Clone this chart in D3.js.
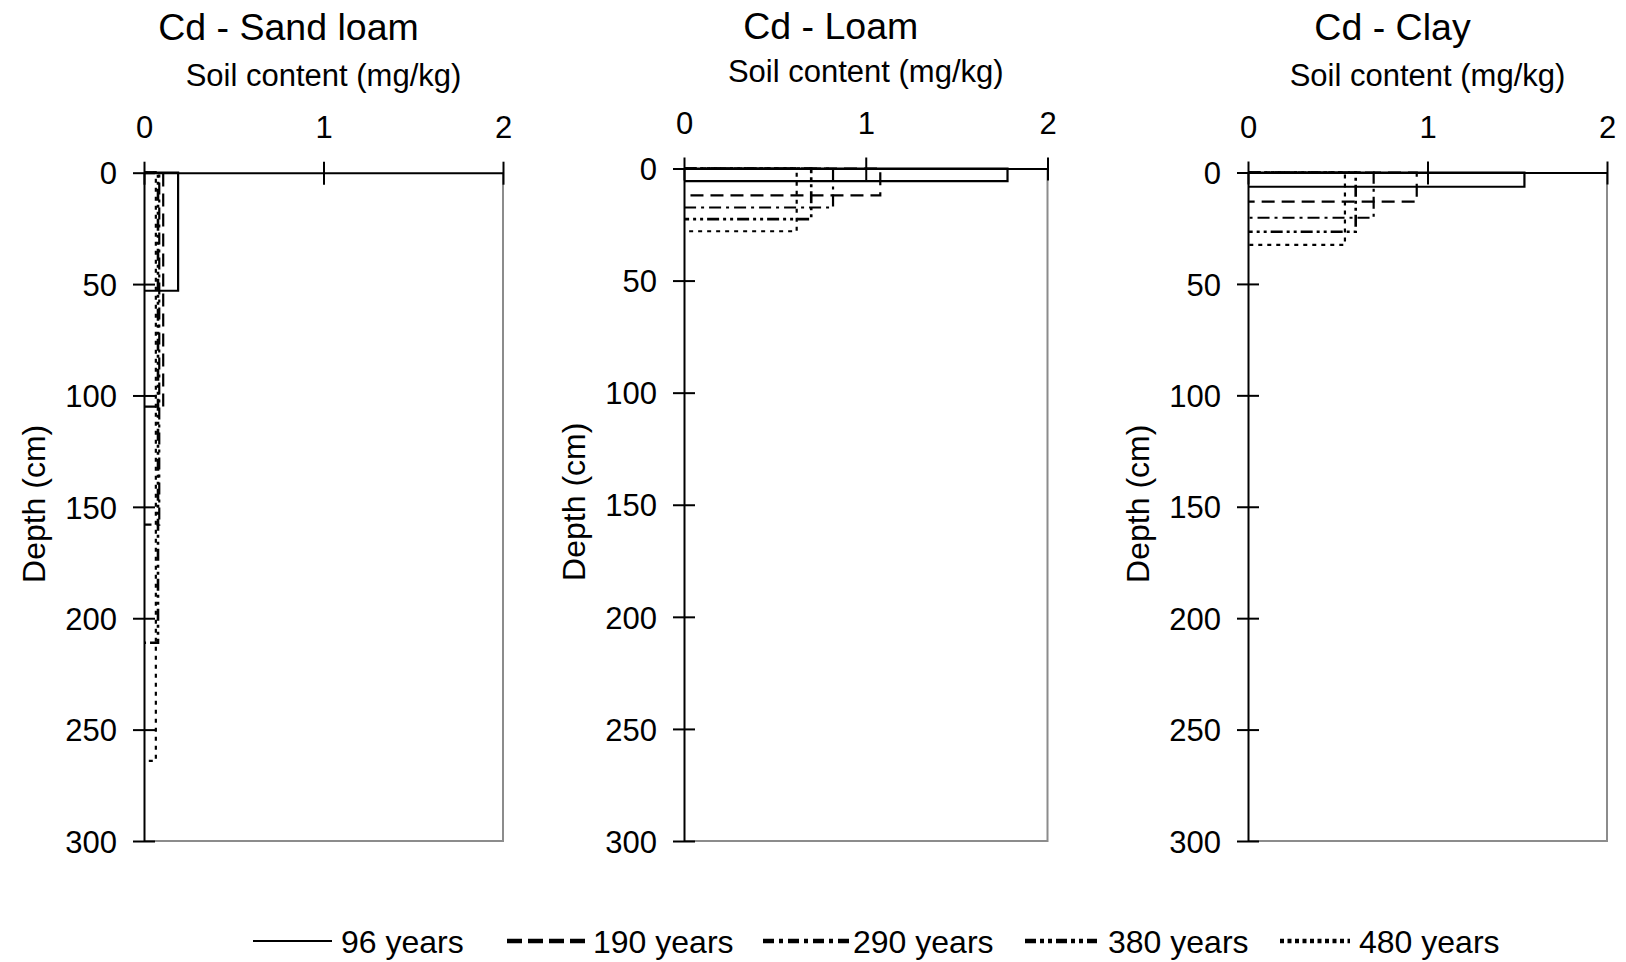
<!DOCTYPE html>
<html>
<head>
<meta charset="utf-8">
<script src="https://cdn.jsdelivr.net/npm/d3@7"></script>
<style>
  body { margin: 0; background: #fff; }
  text { font-family: "Liberation Sans", Arial, sans-serif; fill: #000; }
</style>
</head>
<body>
<svg id="chart" width="1626" height="962"></svg>
<script>
// series labels (ages)
const years = ["96 years", "190 years", "290 years", "380 years", "480 years"]

// Cd content (mg/kg) and depth of the front (cm) per age
const sandContent = [0.19, 0.107, 0.085, 0.078, 0.066]
const sandDepth = [53, 105, 158, 211, 264]
const loamContent = [1.78, 1.08, 0.82, 0.70, 0.62]
const loamDepth = [5.6, 12, 17.4, 22.6, 28]
const clayContent = [1.54, 0.94, 0.70, 0.60, 0.54]
const clayDepth = [6.4, 13.1, 20.3, 26.6, 32.5]

const xTicks = [0, 1, 2]
const yTicks = [0, 50, 100, 150, 200, 250, 300]

// line styles per age
const plotDash = [null, "13,7", "12,5,3,5", "12,4,3,4,3,4", "4,5"]
const legendDash = [null, "15,6", "11,5,4,5", "11,4,4,4,4,4", "4,3.5"]

let svg = d3.select("#chart")

//Panels
let panels = [
	{title: "Cd - Sand loam", content: sandContent, depth: sandDepth, left: 144, right: 503, top: 172.7, bottom: 841, titleY: 26},
	{title: "Cd - Loam", content: loamContent, depth: loamDepth, left: 684, right: 1047.5, top: 168.5, bottom: 841, titleY: 25},
	{title: "Cd - Clay", content: clayContent, depth: clayDepth, left: 1248, right: 1607, top: 172.5, bottom: 841, titleY: 26}
]

panels.forEach(p => {
	let xscale = d3.scaleLinear().domain([0, 2]).range([p.left, p.right])
	let yscale = d3.scaleLinear().domain([0, 300]).range([p.top, p.bottom])
	let mid = (p.left + p.right) / 2

	let g = svg.append("g")

	//gray plot border right and bottom
	g.append("path")
		.attr("d", "M" + xscale(2) + "," + yscale(0) + "V" + yscale(300) + "H" + xscale(0))
		.attr("fill", "none")
		.attr("stroke", "#8c8c8c")
		.attr("stroke-width", 2)

	//profiles
	let line = d3.line()
		.x(d => xscale(d[0]))
		.y(d => yscale(d[1]))

	p.content.forEach((c, i) => {
		let dep = p.depth[i]
		g.append("path")
			.datum([[0, 0], [c, 0], [c, dep], [0, dep]])
			.attr("d", line)
			.attr("fill", "none")
			.attr("stroke", "#000")
			.attr("stroke-width", i == 3 ? 2.6 : 2.2)
			.attr("stroke-dasharray", plotDash[i])
	})

	//x axis on top
	let xa = g.append("g")
		.attr("transform", "translate(0," + yscale(0) + ")")
		.call(d3.axisTop(xscale).tickValues(xTicks).tickFormat(d3.format("d")).tickSizeOuter(0))
	xa.select(".domain").attr("stroke", "#000").attr("stroke-width", 2)
	xa.selectAll(".tick line").attr("y1", -11).attr("y2", 12).attr("stroke-width", 2)
	xa.selectAll(".tick text")
		.attr("y", -35).attr("dy", 0)
		.style("font-size", "31px")
		.style("font-family", "Liberation Sans, Arial, sans-serif")

	//y axis
	let ya = g.append("g")
		.attr("transform", "translate(" + xscale(0) + ",0)")
		.call(d3.axisLeft(yscale).tickValues(yTicks).tickSizeOuter(0))
	ya.select(".domain").attr("stroke", "#000").attr("stroke-width", 2)
	ya.selectAll(".tick line").attr("x1", -11).attr("x2", 11).attr("stroke-width", 2)
	ya.selectAll(".tick text")
		.attr("x", -27).attr("dy", "0.36em")
		.style("font-size", "31px")
		.style("font-family", "Liberation Sans, Arial, sans-serif")

	//titles
	g.append("text")
		.attr("x", mid - 35)
		.attr("y", p.titleY)
		.attr("dy", "0.36em")
		.attr("text-anchor", "middle")
		.style("font-size", "37.5px")
		.text(p.title)

	g.append("text")
		.attr("x", mid)
		.attr("y", p.top - 98)
		.attr("dy", "0.36em")
		.attr("text-anchor", "middle")
		.style("font-size", "31px")
		.text("Soil content (mg/kg)")

	g.append("text")
		.attr("transform", "translate(" + (p.left - 110.5) + "," + ((p.top + p.bottom) / 2 - 3) + ") rotate(-90)")
		.attr("dy", "0.36em")
		.attr("text-anchor", "middle")
		.style("font-size", "32px")
		.text("Depth (cm)")
})

//Legend
let legendLine = [[253, 332], [507, 585], [763, 851], [1025, 1097], [1280, 1350]]
let legendText = [341, 593, 853, 1108, 1359]
let legendY = 941

years.forEach((name, i) => {
	svg.append("line")
		.attr("x1", legendLine[i][0]).attr("x2", legendLine[i][1])
		.attr("y1", legendY).attr("y2", legendY)
		.attr("stroke", "#000")
		.attr("stroke-width", i == 0 ? 2 : 4.5)
		.attr("stroke-dasharray", legendDash[i])
	svg.append("text")
		.attr("x", legendText[i])
		.attr("y", legendY)
		.attr("dy", "0.36em")
		.style("font-size", "32px")
		.text(name)
})
</script>
</body>
</html>
